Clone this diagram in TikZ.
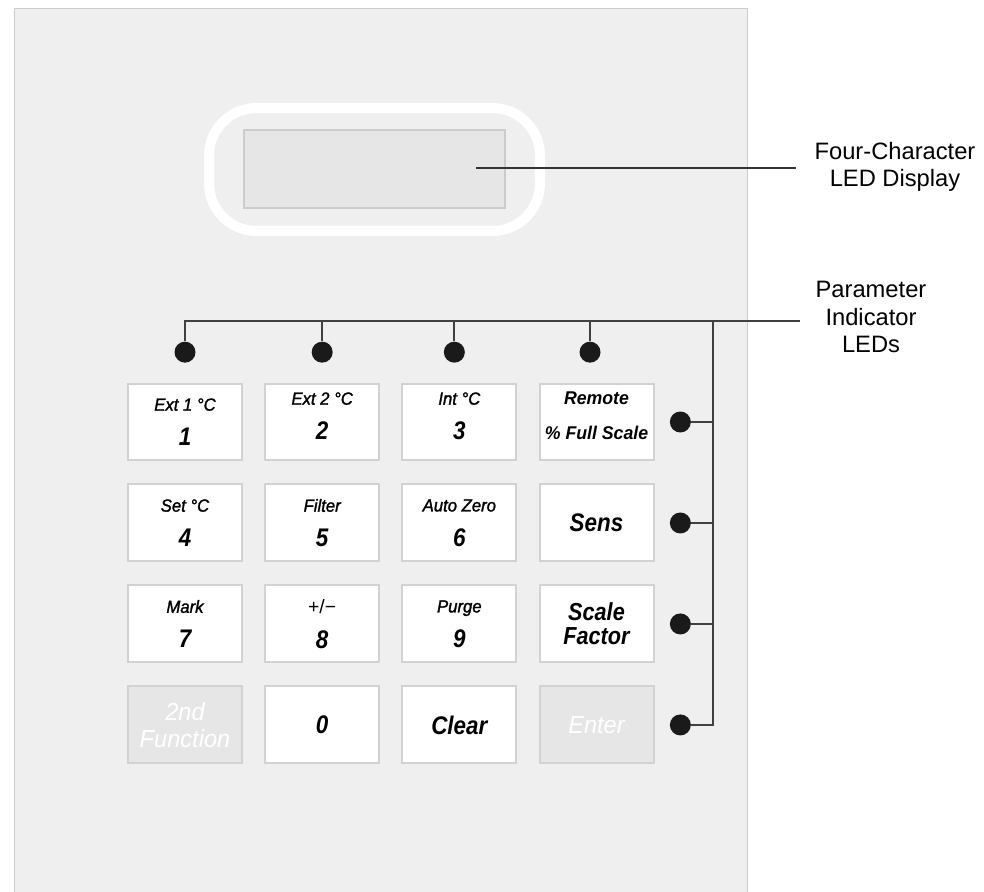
\documentclass[tikz,border=0pt]{standalone}
\usepackage{fontspec}
\setmainfont{Liberation Sans}
\newfontfamily\keyfont[FakeStretch=0.88]{Liberation Sans}
\newfontfamily\labfont[FakeStretch=0.95, FakeBold=1.5]{Liberation Sans}
\newfontfamily\offfont[FakeStretch=0.96]{Liberation Sans}
\usetikzlibrary{positioning}

\definecolor{panelbg}{HTML}{EFEFEF}
\definecolor{paneledge}{HTML}{CCCCCC}
\definecolor{keyedge}{HTML}{D2D2D2}
\definecolor{keygrey}{HTML}{E6E6E6}
\definecolor{ledblack}{HTML}{1A1A1A}
\definecolor{busline}{HTML}{404040}

\newcommand{\keylab}[1]{{\labfont\itshape #1}}
\newcommand{\keydig}[1]{{\keyfont\fontsize{14.5}{16}\selectfont\bfseries\itshape #1}}
\newcommand{\keybig}[1]{{\keyfont\fontsize{14.5}{17}\selectfont\bfseries\itshape #1}}

\begin{document}
\begin{tikzpicture}[
    x=0.02cm, y=-0.02cm,
    node distance=0.44cm and 0.424cm,
    keybtn/.style={rectangle, draw=keyedge, fill=white, line width=0.04cm, minimum width=2.28cm, minimum height=1.54cm, inner sep=0pt, align=center, font=\fontsize{10}{19.9}\selectfont},
    offbtn/.style={keybtn, fill=keygrey, text=white, font=\offfont\itshape\fontsize{14}{15.4}\selectfont},
    led/.style={circle, fill=ledblack, minimum size=0.42cm, inner sep=0pt},
    bus/.style={draw=busline, line width=0.035cm},
    leader/.style={draw=black!80, line width=0.03cm},
    callout/.style={align=center, font=\fontsize{13.5}{15.4}\selectfont, inner ysep=0pt}
]
\useasboundingbox (0,0) rectangle (984,892);
\draw[fill=panelbg, draw=paneledge, line width=0.02cm] (14,9) rectangle (747,920);

% display window
\node[rectangle, rounded corners=0.95cm, draw=white, line width=0.2cm, minimum width=6.62cm, minimum height=2.46cm] (bezel) at (374.5,169.5) {};
\node[rectangle, draw=paneledge, fill=keygrey, line width=0.04cm, minimum width=5.22cm, minimum height=1.56cm] (lcd) at (374.5,169) {};

% keypad
\node[keybtn] (k1) at (185,422) {\keylab{Ext 1 °C}\\\keydig{1}};
\node[keybtn, right=of k1, text depth=0.24cm] (k2) {\keylab{Ext 2 °C}\\\keydig{2}};
\node[keybtn, right=of k2, text depth=0.24cm] (k3) {\keylab{Int °C}\\\keydig{3}};
\node[keybtn, right=of k3, text depth=0.24cm, font=\fontsize{10.5}{19.9}\selectfont] (kremote) {{\offfont\bfseries\itshape Remote}\\{\offfont\bfseries\itshape \% Full Scale}};
\node[keybtn, below=of k1] (k4) {\keylab{Set °C}\\\keydig{4}};
\node[keybtn, below=of k2] (k5) {\keylab{Filter}\\\keydig{5}};
\node[keybtn, below=of k3] (k6) {\keylab{Auto Zero}\\\keydig{6}};
\node[keybtn, below=of kremote] (ksens) {\keybig{Sens}};
\node[keybtn, below=of k4] (k7) {\keylab{Mark}\\\keydig{7}};
\node[keybtn, below=of k5] (k8) {{\fontsize{11}{12}\selectfont +/−}\\\keydig{8}};
\node[keybtn, below=of k6] (k9) {\keylab{Purge}\\\keydig{9}};
\node[keybtn, below=of ksens, font=\keyfont\bfseries\itshape\fontsize{14}{13.7}\selectfont] (kscale) {Scale\\Factor};
\node[offbtn, below=of k7] (k2nd) {2nd\\Function};
\node[keybtn, below=of k8] (k0) {\keydig{0}};
\node[keybtn, below=of k9] (kclear) {\keybig{Clear}};
\node[offbtn, below=of kscale] (kenter) {Enter};

% indicator LEDs
\node[led, above=0.39cm of k1] (ledA) {};
\node[led, above=0.39cm of k2] (ledB) {};
\node[led, above=0.39cm of k3, xshift=-0.1cm] (ledC) {};
\node[led, above=0.39cm of kremote, xshift=-0.13cm] (ledD) {};
\node[led, right=0.3cm of kremote] (ledE) {};
\node[led, right=0.3cm of ksens] (ledF) {};
\node[led, right=0.3cm of kscale] (ledG) {};
\node[led, right=0.3cm of kenter] (ledH) {};

% callouts
\node[callout, inner xsep=0.36cm] (lcdtext) at (895,167) {Four-Character\\LED Display};
\node[callout, inner xsep=0.32cm] (partext) at (871,317) {Parameter\\Indicator\\LEDs};
\coordinate (lcdin) at (476,168);
\draw[leader] (lcdin) -- (lcdin -| lcdtext.west);

\coordinate (busend) at (800,321);
\coordinate (busturn) at (713,321);
\draw[bus] (ledA.north) |- (busend);
\draw[bus] (ledB.north) -- (ledB.north |- busend);
\draw[bus] (ledC.north) -- (ledC.north |- busend);
\draw[bus] (ledD.north) -- (ledD.north |- busend);
\draw[bus] (busturn) |- (ledH.east);
\draw[bus] (ledE.east) -- (ledE.east -| busturn);
\draw[bus] (ledF.east) -- (ledF.east -| busturn);
\draw[bus] (ledG.east) -- (ledG.east -| busturn);
\end{tikzpicture}
\end{document}
